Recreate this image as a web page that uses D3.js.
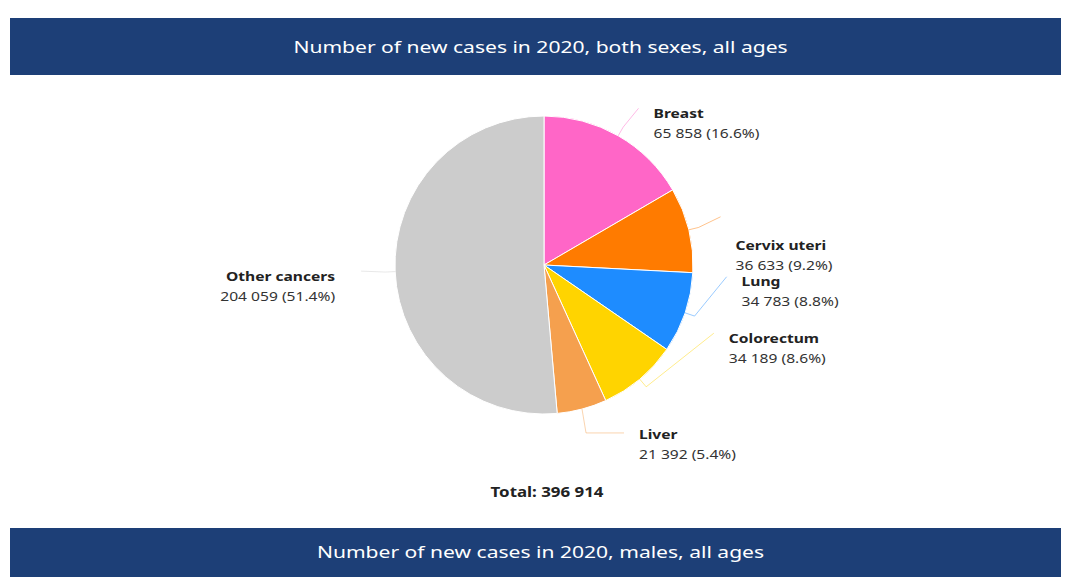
<!DOCTYPE html>
<html>
<head>
<meta charset="utf-8">
<script src="https://cdn.jsdelivr.net/npm/d3@7"></script>
<style>
  body { margin: 0; background: #fff; }
  svg { display: block; font-family: "Noto Sans", "Open Sans", sans-serif; }
</style>
</head>
<body>
<svg id="chart" width="1071" height="577"></svg>
<script>
// data
var cancers = ["Breast", "Cervix uteri", "Lung", "Colorectum", "Liver", "Other cancers"];
var newCases = [65858, 36633, 34783, 34189, 21392, 204059];
var shares = ["16.6%", "9.2%", "8.8%", "8.6%", "5.4%", "51.4%"];
var sliceColors = ["#ff66c7", "#ff7b00", "#1e8cff", "#ffd400", "#f5a04e", "#cccccc"];
var total = "396 914";

// label layout tweaks (not data): connector end nudge and text drop
var labelShift = [2, -5, -47, -72, -9, -2];
var textDrop = [5, 28, 4, 5, 1, 5];

var svg = d3.select("#chart");
var W = 1071, cx = 544, cy = 265, r = 149, rLab = 183;
var SX = 1.2; // horizontal stretch of the reference text

var fmt = function (n) {
    return d3.format(",")(n).replace(/,/g, " ");
};

function stretchedText(parent, x, y, anchor, size, weight, fill, str, sx) {
    return parent.append("text")
        .attr("transform", "translate(" + x + "," + y + ") scale(" + sx + ",1)")
        .attr("text-anchor", anchor)
        .style("font-size", size + "px")
        .style("font-weight", weight)
        .style("fill", fill)
        .text(str);
}

// header bands
svg.append("rect").attr("x", 10).attr("y", 18).attr("width", 1051).attr("height", 57).style("fill", "#1d3f77");
stretchedText(svg, W / 2 + 5, 53, "middle", 17, "normal", "#fff",
    "Number of new cases in 2020, both sexes, all ages", 1.24);

svg.append("rect").attr("x", 10).attr("y", 528).attr("width", 1051).attr("height", 60).style("fill", "#1d3f77");
stretchedText(svg, W / 2 + 5, 558, "middle", 17, "normal", "#fff",
    "Number of new cases in 2020, males, all ages", 1.24);

var items = cancers.map(function (c, i) {
    return { name: c, value: newCases[i], share: shares[i], color: sliceColors[i], idx: i };
});

var pie = d3.pie().sort(null).value(function (d) { return d.value; });
var arcs = pie(items);
var arc = d3.arc().innerRadius(0).outerRadius(r);

var g = svg.append("g").attr("transform", "translate(" + cx + "," + cy + ")");

g.selectAll("path.slice")
    .data(arcs)
    .enter()
    .append("path")
    .attr("class", "slice")
    .attr("d", arc)
    .style("fill", function (d) { return d.data.color; })
    .style("stroke", "#fff")
    .style("stroke-width", 1);

// labels + connectors
arcs.forEach(function (d) {
    var i = d.data.idx;
    var mid = (d.startAngle + d.endAngle) / 2;
    var right = mid < Math.PI;
    var ly = -rLab * Math.cos(mid) + labelShift[i];
    var dx = Math.sqrt(Math.max(rLab * rLab - ly * ly, 0));
    if (d.data.name === "Liver") { dx = Math.max(dx, 80); }
    var ex = right ? dx : -dx;

    var p0 = [r * Math.sin(mid), -r * Math.cos(mid)];
    var p1 = [(r + 10) * Math.sin(mid), -(r + 10) * Math.cos(mid)];
    if (d.data.name === "Liver") { p1 = [p0[0] + 4, ly]; }
    var pts = [p0, p1, [ex, ly]];

    g.append("path")
        .attr("d", d3.line()(pts))
        .style("fill", "none")
        .style("stroke", d.data.color)
        .style("stroke-opacity", 0.45)
        .style("stroke-width", 1);

    var tx = right ? ex + 15 : ex - 26;
    var base = ly + textDrop[i] + 5;
    stretchedText(g, tx, base, right ? "start" : "end", 13, "bold", "#222", d.data.name, SX);
    stretchedText(g, tx, base + 20, right ? "start" : "end", 13, "normal", "#333",
        fmt(d.data.value) + " (" + d.data.share + ")", SX);
});

stretchedText(svg, 547, 497, "middle", 13.5, "bold", "#222", "Total: " + total, 1.25);
</script>
</body>
</html>
